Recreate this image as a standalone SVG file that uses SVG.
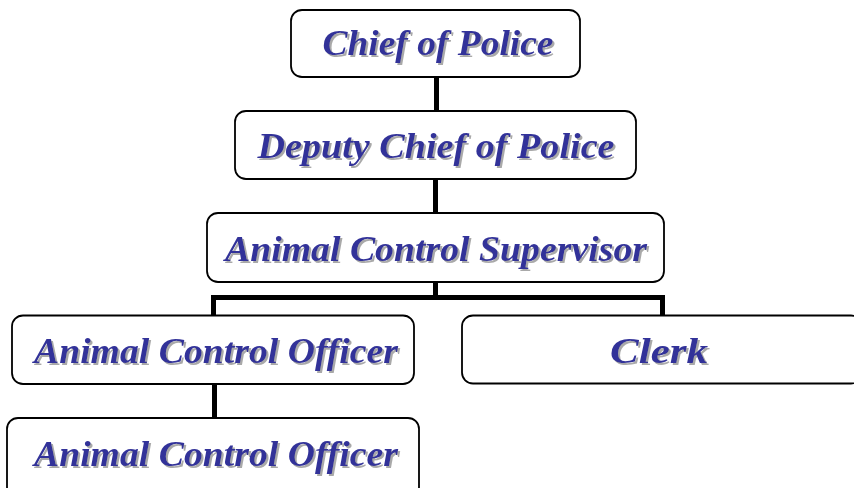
<svg xmlns="http://www.w3.org/2000/svg" width="854" height="488" viewBox="0 0 854 488">
<style>
.box{fill:#fff;stroke:#000;stroke-width:1.8}
.lbl{font-family:"Liberation Serif","Times New Roman",serif;font-weight:bold;font-style:italic;font-size:36px;fill:#333399;text-anchor:middle;filter:url(#sh)}
.con{stroke:#000;stroke-width:5;fill:none}
</style>
<defs>
<filter id="sh" x="-10%" y="-30%" width="120%" height="160%">
<feDropShadow dx="2" dy="2" stdDeviation="0.7" flood-color="#a0a0a0" flood-opacity="0.9"/>
</filter>
</defs>
<rect width="854" height="488" fill="#fff"/>
<g id="connectors">
<line class="con" x1="436.5" y1="77" x2="436.5" y2="111"/>
<line class="con" x1="435.5" y1="179" x2="435.5" y2="213"/>
<line class="con" x1="435.5" y1="282" x2="435.5" y2="297"/>
<polyline class="con" points="213.5,315 213.5,297.5 662.5,297.5 662.5,315"/>
<line class="con" x1="214.5" y1="384" x2="214.5" y2="418"/>
</g>
<g id="chief">
<rect class="box" x="291" y="10" width="289" height="67" rx="11"/>
<text class="lbl" x="438" y="55" textLength="231" lengthAdjust="spacingAndGlyphs">Chief of Police</text>
</g>
<g id="deputy">
<rect class="box" x="235" y="111" width="401" height="68" rx="11"/>
<text class="lbl" x="436" y="158" textLength="357" lengthAdjust="spacingAndGlyphs">Deputy Chief of Police</text>
</g>
<g id="supervisor">
<rect class="box" x="207" y="213" width="457" height="69" rx="11"/>
<text class="lbl" x="436" y="261" textLength="422" lengthAdjust="spacingAndGlyphs">Animal Control Supervisor</text>
</g>
<g id="officer1">
<rect class="box" x="12" y="315.5" width="402" height="68.5" rx="11"/>
<text class="lbl" x="216" y="363" textLength="364" lengthAdjust="spacingAndGlyphs">Animal Control Officer</text>
</g>
<g id="clerk">
<rect class="box" x="462" y="315.5" width="400" height="68" rx="11"/>
<text class="lbl" x="659" y="363" textLength="98" lengthAdjust="spacingAndGlyphs">Clerk</text>
</g>
<g id="officer2">
<rect class="box" x="7" y="418" width="412" height="80" rx="11"/>
<text class="lbl" x="216" y="466" textLength="364" lengthAdjust="spacingAndGlyphs">Animal Control Officer</text>
</g>
</svg>
